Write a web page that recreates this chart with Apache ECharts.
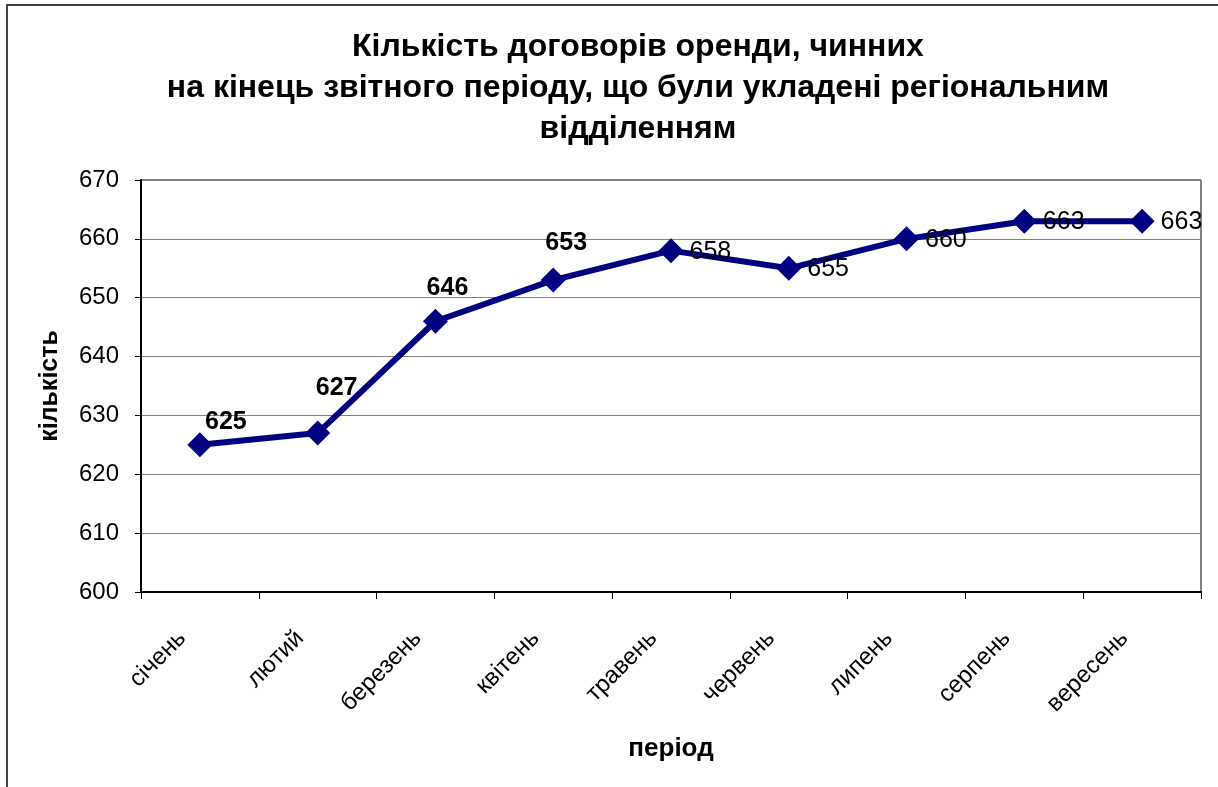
<!DOCTYPE html>
<html>
<head>
<meta charset="utf-8">
<script src="https://cdn.jsdelivr.net/npm/echarts@6/dist/echarts.min.js"></script>
<style>
  html, body { margin: 0; padding: 0; background: #fff; }
  #chart { width: 1218px; height: 787px; }
</style>
</head>
<body>
<div id="chart"></div>
<script>
// місяці та кількість договорів
const months = ['січень', 'лютий', 'березень', 'квітень', 'травень', 'червень', 'липень', 'серпень', 'вересень'];
const contracts = [625, 627, 646, 653, 658, 655, 660, 663, 663];
// перші чотири підписи жирні й зсунуті вручну над точкою
const boldLabels = [true, true, true, true, false, false, false, false, false];
const boldOffsets = [[26, -23], [19, -45], [12, -33], [13, -37]];

const font = 'Liberation Sans, Arial, sans-serif';

const points = contracts.map((v, i) => {
  if (boldLabels[i]) {
    return {
      value: v,
      label: { position: 'inside', offset: boldOffsets[i], fontWeight: 'bold' }
    };
  }
  return { value: v, label: { position: 'right', offset: [1, 1], fontWeight: 'normal' } };
});

const option = {
  backgroundColor: '#fff',
  animation: false,
  title: {
    text: 'Кількість договорів оренди, чинних\nна кінець звітного періоду, що були укладені регіональним\nвідділенням',
    left: 633,
    textAlign: 'center',
    top: 22,
    textStyle: { fontFamily: font, fontSize: 32, fontWeight: 'bold', color: '#000', lineHeight: 41 }
  },
  graphic: [{
    type: 'rect',
    shape: { x: 7, y: 5, width: 1230, height: 800 },
    style: { fill: 'none', stroke: '#404040', lineWidth: 2 },
    silent: true
  }],
  grid: {
    left: 141, right: 17, top: 180, bottom: 195,
    show: true, borderColor: '#000', borderWidth: 1
  },
  xAxis: {
    type: 'category',
    data: months,
    boundaryGap: true,
    name: 'період',
    nameLocation: 'middle',
    nameGap: 144,
    nameTextStyle: { fontFamily: font, fontSize: 26, fontWeight: 'bold', color: '#000' },
    axisLine: { lineStyle: { color: '#000', width: 2 } },
    axisTick: { show: true, alignWithLabel: false, length: 7, lineStyle: { color: '#000' } },
    axisLabel: {
      rotate: 45, margin: 25, padding: [0, 25, 0, 0],
      fontFamily: font, fontSize: 24, color: '#000'
    }
  },
  yAxis: {
    type: 'value',
    min: 600, max: 670, interval: 10,
    name: 'кількість',
    nameLocation: 'middle',
    nameGap: 78,
    nameTextStyle: { fontFamily: font, fontSize: 25, fontWeight: 'bold', color: '#000' },
    axisLine: { show: true, lineStyle: { color: '#000', width: 2 } },
    axisTick: { show: true, length: 6, lineStyle: { color: '#000' } },
    axisLabel: { margin: 22, fontFamily: font, fontSize: 24, color: '#000' },
    splitLine: { lineStyle: { color: '#808080', width: 1 } }
  },
  series: [{
    type: 'line',
    data: points,
    symbol: 'diamond',
    symbolSize: 25,
    lineStyle: { color: '#000080', width: 6 },
    itemStyle: { color: '#000080' },
    label: { show: true, fontFamily: font, fontSize: 25, color: '#000' }
  }]
};

const chart = echarts.init(document.getElementById('chart'));
chart.setOption(option);
</script>
</body>
</html>
